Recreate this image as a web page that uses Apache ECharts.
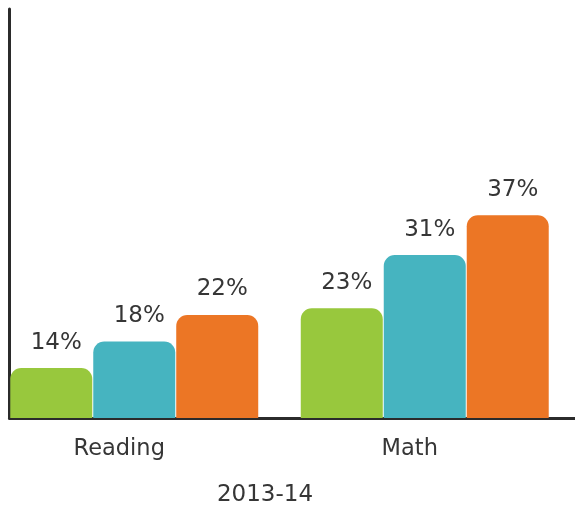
<!DOCTYPE html>
<html>
<head>
<meta charset="utf-8">
<script src="https://cdn.jsdelivr.net/npm/echarts@6/dist/echarts.min.js"></script>
<style>
  html, body { margin: 0; padding: 0; background: #fff; }
  #chart { width: 575px; height: 508px; }
</style>
</head>
<body>
<div id="chart"></div>
<script>
// 数据
var categories = ['Reading', 'Math'];
var groupA = [14, 23];
var groupB = [18, 31];
var groupC = [22, 37];
var yearLabel = '2013-14';

(function () {
    var myChart = echarts.init(document.getElementById('chart'));
    var textColor = '#363636';
    var font = 'DejaVu Sans';

    function barSeries(name, data, color) {
        return {
            name: name,
            type: 'bar',
            xAxisIndex: 1,
            yAxisIndex: 1,
            data: data,
            barWidth: 82,
            barGap: '1.2%',
            itemStyle: {
                color: color,
                borderRadius: [11, 11, 0, 0]
            },
            label: {
                show: true,
                position: 'top',
                distance: 14,
                offset: [5, 0],
                formatter: '{c}%',
                color: textColor,
                fontFamily: font,
                fontSize: 23
            }
        };
    }

    var option = {
        animation: false,
        // grid 0 只画坐标轴线, grid 1 放柱子
        grid: [
            { left: 9.5, right: 0, top: 9, bottom: 90, outerBoundsMode: 'none' },
            { left: -11, width: 581, top: 9, bottom: 90, outerBoundsMode: 'none' }
        ],
        xAxis: [
            {
                type: 'category',
                gridIndex: 0,
                data: categories,
                axisLine: { lineStyle: { color: '#2b2b2b', width: 3 } },
                axisTick: { show: false },
                axisLabel: { show: false }
            },
            {
                type: 'category',
                gridIndex: 1,
                data: categories,
                axisLine: { show: false },
                axisTick: { show: false },
                axisLabel: {
                    color: textColor,
                    fontFamily: font,
                    fontSize: 22.5,
                    margin: 20,
                    padding: [0, 30, 0, 0]
                },
                name: yearLabel,
                nameLocation: 'middle',
                nameGap: 66,
                nameTextStyle: {
                    color: textColor,
                    fontFamily: font,
                    fontSize: 23,
                    padding: [0, 29, 0, 0]
                }
            }
        ],
        yAxis: [
            {
                type: 'value',
                gridIndex: 0,
                min: 6.5,
                max: 68,
                axisLine: { show: true, lineStyle: { color: '#2b2b2b', width: 3 } },
                axisTick: { show: false },
                axisLabel: { show: false },
                splitLine: { show: false }
            },
            {
                type: 'value',
                gridIndex: 1,
                min: 6.5,
                max: 68,
                show: false,
                splitLine: { show: false }
            }
        ],
        series: [
            barSeries('A', groupA, '#98c83d'),
            barSeries('B', groupB, '#46b4c0'),
            barSeries('C', groupC, '#ec7625')
        ]
    };
    myChart.setOption(option);

    window.addEventListener('resize', function () {
        myChart.resize();
    });
})();
</script>
</body>
</html>
